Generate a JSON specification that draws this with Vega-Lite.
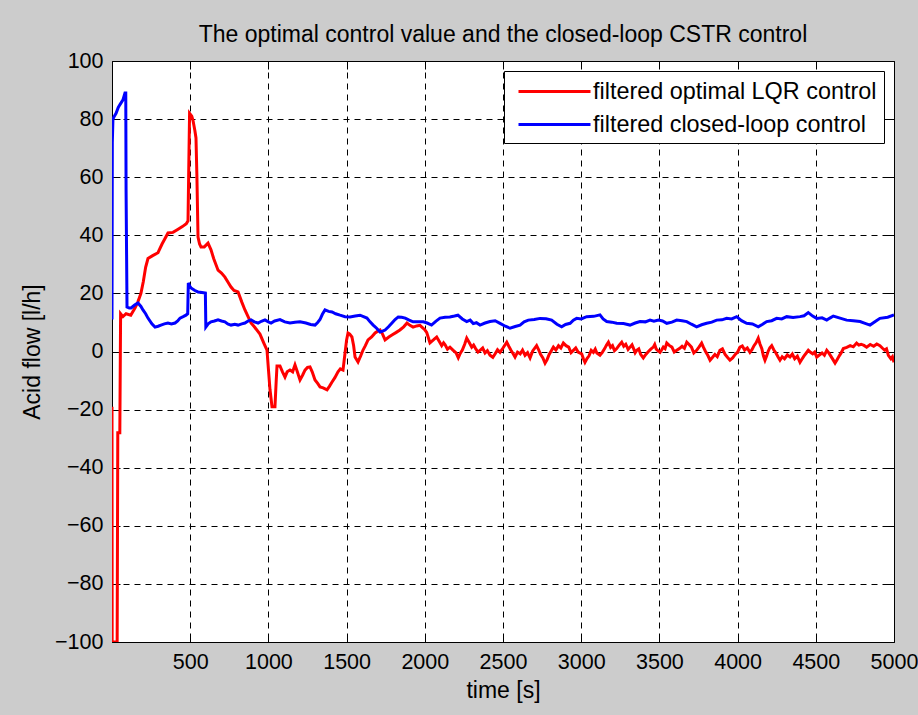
{
  "$schema": "https://vega.github.io/schema/vega-lite/v6.json",
  "width": 782,
  "height": 581,
  "autosize": {"type": "none"},
  "padding": {"left": 112, "top": 61, "right": 24, "bottom": 73},
  "background": "#cccccc",
  "title": {
    "text": "The optimal control value and the closed-loop CSTR control",
    "anchor": "middle",
    "frame": "group",
    "offset": 3,
    "font": "Liberation Sans",
    "fontSize": 23,
    "fontWeight": "normal",
    "color": "#000000"
  },
  "datasets": {
    "lqr": [
      {"t":0,"v":-19},{"t":1,"v":-100},{"t":33,"v":-100},{"t":37,"v":-28},{"t":50,"v":-28},{"t":55,"v":13},{"t":70,"v":12},{"t":90,"v":13},{"t":120,"v":12.5},{"t":147,"v":15},{"t":165,"v":17},{"t":185,"v":20},{"t":200,"v":24},{"t":215,"v":29},{"t":230,"v":32},{"t":260,"v":33},{"t":294,"v":34},{"t":320,"v":37},{"t":340,"v":39},{"t":358,"v":40.8},{"t":390,"v":41},{"t":420,"v":42},{"t":450,"v":43},{"t":475,"v":44},{"t":486,"v":45},{"t":490,"v":60},{"t":496,"v":82},{"t":510,"v":81},{"t":518,"v":79.5},{"t":530,"v":76},{"t":537,"v":73.5},{"t":543,"v":60},{"t":550,"v":39.4},{"t":560,"v":37},{"t":569,"v":36},{"t":590,"v":36},{"t":614,"v":37.3},{"t":633,"v":35},{"t":650,"v":32},{"t":678,"v":28},{"t":700,"v":27},{"t":722,"v":25.6},{"t":740,"v":24},{"t":761,"v":22.2},{"t":780,"v":21},{"t":806,"v":20.5},{"t":830,"v":17},{"t":850,"v":14.3},{"t":870,"v":12},{"t":889,"v":9.8},{"t":910,"v":8.5},{"t":946,"v":6},{"t":970,"v":3},{"t":991,"v":0.5},{"t":1000,"v":-6},{"t":1010,"v":-13},{"t":1023,"v":-19},{"t":1042,"v":-19},{"t":1050,"v":-10},{"t":1055,"v":-5},{"t":1074,"v":-5},{"t":1090,"v":-7},{"t":1106,"v":-8.8},{"t":1120,"v":-7},{"t":1138,"v":-6.4},{"t":1155,"v":-7},{"t":1170,"v":-4.6},{"t":1185,"v":-7},{"t":1202,"v":-9.8},{"t":1220,"v":-8},{"t":1234,"v":-6.4},{"t":1250,"v":-5.5},{"t":1266,"v":-5.3},{"t":1280,"v":-7},{"t":1298,"v":-9.8},{"t":1315,"v":-11},{"t":1330,"v":-12.2},{"t":1350,"v":-12.5},{"t":1375,"v":-13.2},{"t":1390,"v":-12},{"t":1407,"v":-10.5},{"t":1425,"v":-9},{"t":1445,"v":-7},{"t":1460,"v":-6},{"t":1477,"v":-6.4},{"t":1490,"v":-0.5},{"t":1500,"v":4},{"t":1509,"v":6.4},{"t":1520,"v":6},{"t":1534,"v":5},{"t":1545,"v":2},{"t":1554,"v":-1.9},{"t":1573,"v":-3.6},{"t":1590,"v":-1.5},{"t":1605,"v":0.5},{"t":1620,"v":2},{"t":1637,"v":4},{"t":1660,"v":5},{"t":1682,"v":6.4},{"t":1700,"v":7},{"t":1714,"v":7.4},{"t":1730,"v":6},{"t":1746,"v":4},{"t":1770,"v":5},{"t":1790,"v":5.7},{"t":1815,"v":6.5},{"t":1841,"v":7.4},{"t":1865,"v":8.5},{"t":1886,"v":9.8},{"t":1905,"v":9},{"t":1925,"v":8.4},{"t":1948,"v":8.8},{"t":1969,"v":9},{"t":1990,"v":8},{"t":2001,"v":7.4},{"t":2012,"v":6.6},{"t":2033,"v":3},{"t":2055,"v":4},{"t":2076,"v":5},{"t":2092,"v":3.5},{"t":2108,"v":2},{"t":2120,"v":3},{"t":2130,"v":2.3},{"t":2145,"v":0.8},{"t":2161,"v":1.5},{"t":2180,"v":0.5},{"t":2200,"v":-0.5},{"t":2214,"v":-2.2},{"t":2228,"v":-0.5},{"t":2240,"v":0.5},{"t":2255,"v":2.5},{"t":2268,"v":4.6},{"t":2285,"v":3},{"t":2300,"v":1.5},{"t":2312,"v":2.2},{"t":2325,"v":1},{"t":2340,"v":-0.2},{"t":2353,"v":0.4},{"t":2370,"v":1.2},{"t":2385,"v":-0.5},{"t":2400,"v":0.3},{"t":2417,"v":-1.3},{"t":2435,"v":-2},{"t":2450,"v":-0.8},{"t":2465,"v":0.6},{"t":2481,"v":-0.3},{"t":2500,"v":1.2},{"t":2524,"v":3.2},{"t":2537,"v":1.8},{"t":2550,"v":0.5},{"t":2563,"v":-0.6},{"t":2577,"v":-1.9},{"t":2593,"v":-0.2},{"t":2610,"v":-0.8},{"t":2625,"v":0.5},{"t":2641,"v":-1.3},{"t":2657,"v":-0.4},{"t":2673,"v":-2.2},{"t":2690,"v":0.2},{"t":2715,"v":2},{"t":2728,"v":0.6},{"t":2740,"v":-1},{"t":2755,"v":-2.2},{"t":2769,"v":-4},{"t":2782,"v":-2.8},{"t":2795,"v":-1},{"t":2808,"v":0.2},{"t":2822,"v":1.5},{"t":2838,"v":0.5},{"t":2855,"v":2},{"t":2870,"v":1.2},{"t":2886,"v":2.9},{"t":2903,"v":2},{"t":2920,"v":1.5},{"t":2935,"v":-0.4},{"t":2950,"v":0.4},{"t":2965,"v":1.2},{"t":2980,"v":-0.2},{"t":3003,"v":-0.8},{"t":3014,"v":-2.5},{"t":3024,"v":-3.7},{"t":3037,"v":-2.4},{"t":3050,"v":-1.5},{"t":3064,"v":0.4},{"t":3078,"v":-0.3},{"t":3090,"v":0.8},{"t":3100,"v":-0.5},{"t":3120,"v":-1.3},{"t":3135,"v":-0.3},{"t":3150,"v":1},{"t":3162,"v":2.2},{"t":3174,"v":3.2},{"t":3188,"v":1.4},{"t":3200,"v":2},{"t":3213,"v":0.3},{"t":3227,"v":1},{"t":3243,"v":2.2},{"t":3259,"v":3.2},{"t":3272,"v":1.8},{"t":3285,"v":2.5},{"t":3300,"v":0.7},{"t":3312,"v":1.5},{"t":3325,"v":2.3},{"t":3335,"v":1},{"t":3345,"v":-0.4},{"t":3355,"v":0.4},{"t":3368,"v":0.9},{"t":3380,"v":-1},{"t":3397,"v":-2.2},{"t":3413,"v":-1},{"t":3430,"v":0},{"t":3445,"v":0.8},{"t":3461,"v":1.5},{"t":3470,"v":2.4},{"t":3480,"v":0.8},{"t":3492,"v":0.2},{"t":3504,"v":-0.3},{"t":3515,"v":0.6},{"t":3525,"v":1.5},{"t":3536,"v":1},{"t":3547,"v":2.9},{"t":3563,"v":2.1},{"t":3580,"v":1.5},{"t":3595,"v":-0.2},{"t":3611,"v":0.4},{"t":3628,"v":1},{"t":3645,"v":1.8},{"t":3660,"v":1.1},{"t":3675,"v":3.2},{"t":3690,"v":2.4},{"t":3705,"v":1.5},{"t":3720,"v":-0.5},{"t":3738,"v":0.4},{"t":3754,"v":1.6},{"t":3770,"v":2.9},{"t":3782,"v":1.4},{"t":3795,"v":0},{"t":3810,"v":-1.4},{"t":3824,"v":-3},{"t":3840,"v":-2},{"t":3855,"v":-1},{"t":3870,"v":-1.8},{"t":3887,"v":0.4},{"t":3903,"v":0.9},{"t":3920,"v":-1},{"t":3935,"v":-2},{"t":3951,"v":-3},{"t":3968,"v":-2.2},{"t":3985,"v":-1},{"t":4000,"v":-0.2},{"t":4015,"v":1.5},{"t":4030,"v":1.9},{"t":4045,"v":0.5},{"t":4062,"v":1.2},{"t":4079,"v":-0.3},{"t":4092,"v":0.6},{"t":4105,"v":2},{"t":4118,"v":3},{"t":4132,"v":4.6},{"t":4143,"v":2.6},{"t":4155,"v":1},{"t":4165,"v":-1.5},{"t":4175,"v":-3},{"t":4185,"v":-1.6},{"t":4195,"v":0},{"t":4206,"v":1.3},{"t":4218,"v":2},{"t":4231,"v":0.6},{"t":4245,"v":-0.5},{"t":4258,"v":-1.8},{"t":4271,"v":-3},{"t":4285,"v":-1.8},{"t":4300,"v":-2.5},{"t":4318,"v":-1.2},{"t":4335,"v":-1.9},{"t":4350,"v":-0.9},{"t":4365,"v":-2.5},{"t":4382,"v":-1.6},{"t":4399,"v":-3.7},{"t":4412,"v":-2.6},{"t":4425,"v":-1.5},{"t":4438,"v":-0.6},{"t":4452,"v":0.4},{"t":4466,"v":-0.3},{"t":4480,"v":-0.8},{"t":4493,"v":-0.2},{"t":4506,"v":-1.9},{"t":4523,"v":-1.2},{"t":4540,"v":-0.5},{"t":4555,"v":-1.3},{"t":4570,"v":0.4},{"t":4582,"v":-0.4},{"t":4595,"v":-1.5},{"t":4610,"v":-2.8},{"t":4623,"v":-4},{"t":4636,"v":-2.8},{"t":4650,"v":-1.5},{"t":4663,"v":-0.4},{"t":4676,"v":1},{"t":4698,"v":1.4},{"t":4720,"v":2},{"t":4740,"v":1.6},{"t":4761,"v":2.9},{"t":4775,"v":2.2},{"t":4790,"v":2.5},{"t":4808,"v":2.1},{"t":4825,"v":1.5},{"t":4848,"v":2.4},{"t":4870,"v":1.8},{"t":4890,"v":2.6},{"t":4910,"v":2},{"t":4925,"v":1.2},{"t":4940,"v":0.5},{"t":4952,"v":0.9},{"t":4964,"v":-1.3},{"t":4980,"v":-2.5},{"t":4990,"v":-1.8},{"t":5000,"v":-3.7}
    ],
    "cl": [
      {"t":0,"v":11},{"t":2,"v":72},{"t":6,"v":80},{"t":15,"v":81},{"t":26,"v":82},{"t":40,"v":84},{"t":51,"v":85},{"t":70,"v":86.6},{"t":83,"v":89},{"t":88,"v":89},{"t":90,"v":55.6},{"t":96,"v":15.3},{"t":110,"v":15},{"t":122,"v":15},{"t":145,"v":16},{"t":166,"v":16.7},{"t":185,"v":15.5},{"t":198,"v":14.3},{"t":215,"v":13},{"t":230,"v":11.5},{"t":255,"v":9.5},{"t":275,"v":8.4},{"t":295,"v":8.7},{"t":313,"v":9.1},{"t":335,"v":9.5},{"t":358,"v":9.8},{"t":380,"v":9.5},{"t":403,"v":9.8},{"t":420,"v":10.5},{"t":435,"v":11.5},{"t":455,"v":12},{"t":473,"v":12.5},{"t":484,"v":13},{"t":488,"v":23.6},{"t":497,"v":22.5},{"t":505,"v":21.9},{"t":530,"v":21},{"t":550,"v":20.5},{"t":575,"v":20.3},{"t":597,"v":20.1},{"t":600,"v":8.4},{"t":615,"v":9.5},{"t":633,"v":10.2},{"t":655,"v":10.5},{"t":678,"v":10.9},{"t":700,"v":10.5},{"t":722,"v":10.2},{"t":740,"v":9.5},{"t":761,"v":9.1},{"t":785,"v":9.4},{"t":806,"v":9.1},{"t":830,"v":9.5},{"t":850,"v":9.8},{"t":870,"v":10.5},{"t":889,"v":10.9},{"t":910,"v":10.2},{"t":934,"v":9.8},{"t":955,"v":10.4},{"t":978,"v":10.9},{"t":1000,"v":10.2},{"t":1017,"v":9.8},{"t":1040,"v":10.5},{"t":1074,"v":11},{"t":1105,"v":10.2},{"t":1138,"v":9.8},{"t":1170,"v":10.1},{"t":1202,"v":10.2},{"t":1240,"v":9.8},{"t":1270,"v":9.3},{"t":1298,"v":9.1},{"t":1315,"v":10},{"t":1330,"v":11},{"t":1345,"v":12.8},{"t":1362,"v":14.3},{"t":1385,"v":13.8},{"t":1407,"v":13.6},{"t":1430,"v":13},{"t":1458,"v":12.5},{"t":1490,"v":12},{"t":1522,"v":11.9},{"t":1555,"v":12.2},{"t":1586,"v":12.5},{"t":1608,"v":12},{"t":1630,"v":11.5},{"t":1650,"v":10.2},{"t":1670,"v":9.1},{"t":1692,"v":8},{"t":1714,"v":6.7},{"t":1730,"v":7},{"t":1746,"v":7.4},{"t":1768,"v":8.5},{"t":1790,"v":9.8},{"t":1810,"v":11},{"t":1830,"v":11.9},{"t":1852,"v":11.8},{"t":1875,"v":11.5},{"t":1900,"v":10.8},{"t":1925,"v":10.2},{"t":1960,"v":10.2},{"t":1990,"v":10.2},{"t":2015,"v":9.8},{"t":2043,"v":9.1},{"t":2070,"v":10.4},{"t":2097,"v":11.5},{"t":2130,"v":11.8},{"t":2160,"v":11.9},{"t":2190,"v":12.2},{"t":2212,"v":12.5},{"t":2240,"v":11.2},{"t":2268,"v":10.3},{"t":2290,"v":10.8},{"t":2310,"v":9.6},{"t":2330,"v":9.9},{"t":2353,"v":9.1},{"t":2385,"v":9.8},{"t":2417,"v":10.3},{"t":2450,"v":10.6},{"t":2481,"v":9.7},{"t":2515,"v":8.7},{"t":2545,"v":8},{"t":2578,"v":8.6},{"t":2609,"v":9.1},{"t":2635,"v":10.2},{"t":2662,"v":10.8},{"t":2700,"v":11},{"t":2737,"v":11.4},{"t":2775,"v":11.3},{"t":2811,"v":10.8},{"t":2845,"v":9.4},{"t":2875,"v":8.5},{"t":2900,"v":9.3},{"t":2929,"v":9.7},{"t":2950,"v":10.8},{"t":2971,"v":11.4},{"t":3000,"v":11.2},{"t":3035,"v":12},{"t":3080,"v":12.1},{"t":3120,"v":12.6},{"t":3140,"v":11.2},{"t":3163,"v":10.3},{"t":3195,"v":10.1},{"t":3227,"v":9.7},{"t":3270,"v":9.6},{"t":3312,"v":9.1},{"t":3345,"v":9.8},{"t":3376,"v":10.3},{"t":3410,"v":10.2},{"t":3440,"v":10.8},{"t":3465,"v":10.4},{"t":3494,"v":10.8},{"t":3520,"v":10.5},{"t":3547,"v":9.7},{"t":3580,"v":10.1},{"t":3611,"v":10.8},{"t":3645,"v":10.6},{"t":3675,"v":10.3},{"t":3705,"v":9.4},{"t":3738,"v":8.5},{"t":3770,"v":9.2},{"t":3802,"v":9.7},{"t":3835,"v":10.1},{"t":3866,"v":10.8},{"t":3900,"v":10.9},{"t":3930,"v":11.4},{"t":3962,"v":11.2},{"t":3994,"v":12},{"t":4025,"v":10.6},{"t":4058,"v":9.7},{"t":4095,"v":9.5},{"t":4132,"v":8.5},{"t":4160,"v":9.4},{"t":4186,"v":10.3},{"t":4218,"v":10.6},{"t":4250,"v":11.4},{"t":4282,"v":11.2},{"t":4314,"v":12},{"t":4355,"v":11.7},{"t":4399,"v":12},{"t":4425,"v":12.3},{"t":4452,"v":13.4},{"t":4480,"v":12.2},{"t":4506,"v":11.4},{"t":4540,"v":11.6},{"t":4570,"v":10.8},{"t":4590,"v":11.5},{"t":4612,"v":12.2},{"t":4655,"v":11.5},{"t":4697,"v":10.8},{"t":4740,"v":10.6},{"t":4783,"v":10.3},{"t":4815,"v":9.7},{"t":4847,"v":9.1},{"t":4880,"v":10.3},{"t":4910,"v":11.4},{"t":4960,"v":11.8},{"t":5000,"v":12.6}
    ]
  },
  "layer": [
    {
      "data": {"name": "lqr"},
      "mark": {"type": "line", "strokeWidth": 3, "clip": true},
      "encoding": {
        "x": {
          "field": "t", "type": "quantitative",
          "scale": {"domain": [0, 5000], "nice": false, "zero": false},
          "axis": {"orient": "bottom", "values": [500,1000,1500,2000,2500,3000,3500,4000,4500,5000], "format": "d", "title": "time [s]", "titlePadding": 6}
        },
        "y": {
          "field": "v", "type": "quantitative",
          "scale": {"domain": [-100, 100], "nice": false, "zero": false},
          "axis": {"orient": "left", "values": [-100,-80,-60,-40,-20,0,20,40,60,80,100], "format": "d", "title": "Acid flow [l/h]", "titlePadding": 10}
        },
        "color": {
          "datum": "filtered optimal LQR control",
          "scale": {"domain": ["filtered optimal LQR control", "filtered closed-loop control"], "range": ["#ff0000", "#0000ff"]},
          "legend": {
            "title": null,
            "orient": "top-right",
            "offset": 10,
            "fillColor": "#ffffff",
            "strokeColor": "#000000",
            "padding": 7,
            "symbolType": "M-1,0H5",
            "symbolSize": 576,
            "symbolStrokeWidth": 3,
            "symbolOffset": 6,
            "labelOffset": 49,
            "rowPadding": 8,
            "labelFont": "Liberation Sans",
            "labelFontSize": 23.4,
            "labelColor": "#000000",
            "labelLimit": 500
          }
        }
      }
    },
    {
      "data": {"name": "cl"},
      "mark": {"type": "line", "strokeWidth": 3, "clip": true},
      "encoding": {
        "x": {"field": "t", "type": "quantitative", "axis": null},
        "y": {"field": "v", "type": "quantitative", "axis": null},
        "color": {"datum": "filtered closed-loop control"}
      }
    },
    {
      "data": {"name": "cl"},
      "mark": {"type": "line", "opacity": 0},
      "encoding": {
        "x": {"field": "t", "type": "quantitative", "axis": {"orient": "top", "values": [500,1000,1500,2000,2500,3000,3500,4000,4500], "labels": false, "title": null, "grid": false, "domain": false}},
        "y": {"field": "v", "type": "quantitative", "axis": {"orient": "right", "values": [-80,-60,-40,-20,0,20,40,60,80], "labels": false, "title": null, "grid": false, "domain": false}}
      }
    }
  ],
  "resolve": {"axis": {"x": "independent", "y": "independent"}},
  "config": {
    "view": {"stroke": "#000000", "strokeWidth": 1, "fill": "#ffffff"},
    "axis": {
      "domain": false,
      "ticks": true,
      "tickSize": -8,
      "tickColor": "#000000",
      "tickWidth": 1,
      "grid": true,
      "gridColor": "#000000",
      "gridDash": [6, 5],
      "gridOpacity": 1,
      "gridWidth": 1,
      "labelFont": "Liberation Sans",
      "labelFontSize": 21.5,
      "labelColor": "#000000",
      "labelFlush": false,
      "labelOverlap": false,
      "titleFont": "Liberation Sans",
      "titleFontSize": 23,
      "titleFontWeight": "normal",
      "titleColor": "#000000"
    },
    "axisX": {"labelPadding": 17.5},
    "axisY": {"labelPadding": 17}
  }
}
